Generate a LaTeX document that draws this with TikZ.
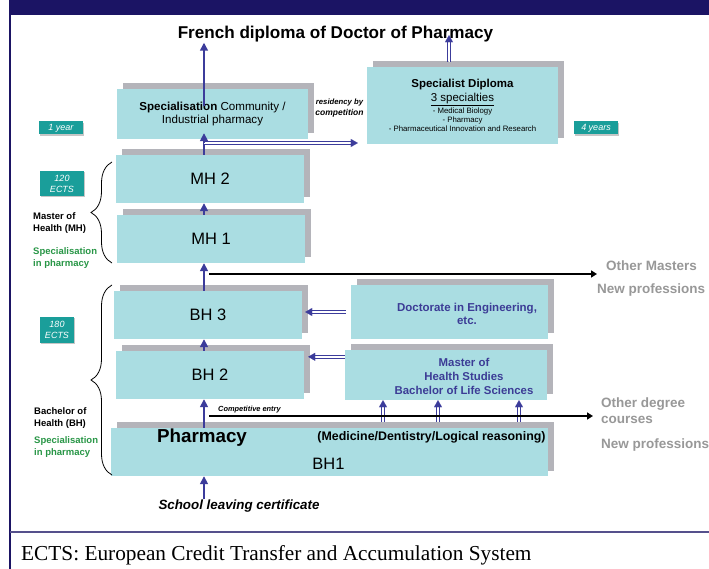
\documentclass[tikz,border=0pt]{standalone}
\usepackage{fontspec}
\setmainfont{Liberation Sans}
\newfontfamily\timesfont{Liberation Serif}
\usetikzlibrary{arrows.meta,shadows,calc,decorations.pathreplacing}
\definecolor{navy}{RGB}{27,20,100}
\definecolor{framegrey}{RGB}{85,80,140}
\definecolor{boxcyan}{RGB}{170,221,226}
\definecolor{shgrey}{RGB}{180,180,186}
\definecolor{arrblue}{RGB}{60,60,155}
\definecolor{tagteal}{RGB}{26,158,154}
\definecolor{hgreen}{RGB}{40,150,70}
\definecolor{lgrey}{RGB}{152,152,152}
\definecolor{textblue}{RGB}{60,60,150}
\newcommand\dblv[2]{%
  \draw[dblline, transform canvas={xshift=1.2pt}] #1 -- #2;
  \draw[dblline, transform canvas={xshift=-1.2pt}] #1 -- #2;
  \draw[dbltip] #1 -- #2;}
\newcommand\dblh[2]{%
  \draw[dblline, transform canvas={yshift=1.2pt}] #1 -- #2;
  \draw[dblline, transform canvas={yshift=-1.2pt}] #1 -- #2;
  \draw[dbltip] #1 -- #2;}
\begin{document}
\begin{tikzpicture}[x=1pt,y=-1pt,
  box/.style={fill=boxcyan, inner sep=0pt, align=center,
    general shadow={fill=shgrey, shadow xshift=6pt, shadow yshift=6pt}},
  tagbox/.style={fill=tagteal, text=white, inner sep=0pt, align=center,
    font=\fontsize{9}{11}\selectfont\itshape,
    general shadow={fill=gray!45, shadow xshift=1.2pt, shadow yshift=-1.2pt}},
  arr/.style={draw=arrblue, line width=1.6pt, -{Triangle[length=8pt,width=8pt]}},
  dblline/.style={draw=arrblue, line width=0.8pt, shorten >=6pt},
  dbltip/.style={draw=white, line width=0.05pt, -{Triangle[length=7pt,width=8pt,color=arrblue]}},
  blk/.style={draw=black, line width=2.6pt, -{Triangle[length=6pt,width=7pt]}},
  side/.style={font=\fontsize{9.5}{12}\selectfont\bfseries, align=left, anchor=base west, inner sep=0pt},
  gtext/.style={text=lgrey, font=\fontsize{13.5}{16}\selectfont\bfseries, align=left, anchor=base west, inner sep=0pt},
  bigtxt/.style={font=\fontsize{16.5}{20}\selectfont},
  brace/.style={decorate, decoration={brace, amplitude=21pt}, line width=0.8pt}
]
\useasboundingbox (0,0) rectangle (709,569);
\fill[white] (0,0) rectangle (709,569);
% frame
\fill[navy] (9,0) rectangle (709,15);
\draw[navy, line width=2pt] (10,0) -- (10,569);
\draw[framegrey, line width=2pt] (10,532) -- (709,532);

% title
\node[font=\fontsize{17.1}{20}\selectfont\bfseries, inner sep=0pt, anchor=base] (title) at (335.5,39) {French diploma of Doctor of Pharmacy};

% top boxes
\node[box, minimum width=191pt, minimum height=50pt, font=\fontsize{11.6}{13.5}\selectfont] (spec) at (212.5,114)
  {\textbf{Specialisation} Community /\\ Industrial pharmacy};
\node[box, minimum width=191pt, minimum height=77pt, font=\fontsize{11.5}{14}\selectfont] (specdip) at (462.5,105.5)
  {\textbf{Specialist Diploma}\\ \underline{3 specialties}\\[-2pt]
   {\fontsize{7.8}{9}\selectfont - Medical Biology}\\[-5pt]
   {\fontsize{7.8}{9}\selectfont - Pharmacy}\\[-5pt]
   {\fontsize{7.8}{9}\selectfont - Pharmaceutical Innovation and Research}};
\node[font=\bfseries\itshape, align=center, inner sep=0pt] (resid) at (339.5,108)
  {{\fontsize{7.7}{9}\selectfont residency by}\\[-1pt]{\fontsize{8.5}{10}\selectfont competition}};

% tags
\node[tagbox, minimum width=44pt, minimum height=13pt] (yr1) at (61,128) {1 year};
\node[tagbox, minimum width=44pt, minimum height=13pt] (yr4) at (596,128) {4 years};
\node[tagbox, minimum width=44pt, minimum height=25pt] (e120) at (62,183.5) {120\\ECTS};
\node[tagbox, minimum width=34pt, minimum height=26pt] (e180) at (57,330) {180\\ECTS};

% main column
\node[box, minimum width=188pt, minimum height=48pt, bigtxt] (mh2) at (210,179) {MH 2};
\node[box, minimum width=188pt, minimum height=48pt, bigtxt] (mh1) at (211,239) {MH 1};
\node[box, minimum width=188pt, minimum height=48pt, bigtxt] (bh3) at (208,315) {BH 3};
\node[box, minimum width=188pt, minimum height=48pt, bigtxt] (bh2) at (210,375) {BH 2};
\node[box, minimum width=437pt, minimum height=48pt, general shadow={fill=shgrey, shadow xshift=6pt, shadow yshift=5pt}] (bh1) at (329.5,452) {};
\node[font=\fontsize{18.8}{22}\selectfont\bfseries, inner sep=0pt] (pharm) at (202,438) {Pharmacy};
\node[font=\fontsize{12.4}{14}\selectfont\bfseries, inner sep=0pt] (med) at (431.5,437) {(Medicine/Dentistry/Logical reasoning)};
\node[bigtxt, inner sep=0pt] (bh1t) at (328.5,464) {BH1};

% right boxes
\node[box, minimum width=197pt, minimum height=54pt] (doct) at (449.5,312) {};
\node[text=textblue, font=\fontsize{11.5}{13}\selectfont\bfseries, align=center, inner sep=0pt] (doctxt) at (467,313.5)
  {Doctorate in Engineering,\\ etc.};
\node[box, minimum width=202pt, minimum height=50pt] (mast) at (446,375) {};
\node[text=textblue, font=\fontsize{11.4}{14}\selectfont\bfseries, align=center, inner sep=0pt] (masttxt) at (464,376)
  {Master of\\ Health Studies\\ Bachelor of Life Sciences};

% side labels (base = last line)
\node[side] (mhlab) at (33,232) {Master of\\Health (MH)};
\node[side, text=hgreen] (mhspec) at (33,266) {Specialisation\\in pharmacy};
\node[side] (bhlab) at (34,426.5) {Bachelor of\\Health (BH)};
\node[side, text=hgreen] (bhspec) at (34,455.5) {Specialisation\\in pharmacy};

% right grey labels
\node[gtext] (omast) at (606,270) {Other Masters};
\node[gtext] (newp1) at (597,294) {New professions};
\node[gtext] (odeg) at (601,423) {Other degree\\courses};
\node[gtext] (newp2) at (601,448) {New professions};

\node[font=\fontsize{7.4}{9}\selectfont\bfseries\itshape, inner sep=0pt, anchor=base west] (comp) at (218,411) {Competitive entry};
\node[font=\fontsize{13.35}{16}\selectfont\bfseries\itshape, inner sep=0pt, anchor=base] (school) at (239,509) {School leaving certificate};

% footer
\node[font=\timesfont\fontsize{21.3}{24}\selectfont, anchor=base west, inner sep=0pt] (foot) at (21,560)
  {ECTS: European Credit Transfer and Accumulation System};

% braces
\draw[brace] (112,263) -- (112,162);
\draw[brace] (112,475) -- (112,285);

% connectors
\coordinate (spine) at (204,0);
\coordinate (specTop) at (204,106);
\coordinate (sdTop) at (449,62);
\coordinate (sdEnd) at ($(sdTop |- title.south)+(0,-7.5)$);
\coordinate (dblStart) at (204,143);
\coordinate (dblEnd) at ($(specdip.west |- dblStart)+(-9,0)$);
\coordinate (dA) at ($(doct.west)+(-5,0)$);
\coordinate (dB) at ($(bh3.east |- doct.west)+(3,0)$);
\coordinate (mA) at ($(mast.north west)+(0,7)$);
\coordinate (mB) at ($(bh2.east |- mA)+(4,0)$);
\coordinate (b1top) at ($(bh1.north)+(0,-6)$);
\coordinate (c1) at (383,0);
\coordinate (c2) at (438,0);
\coordinate (c3) at (519,0);
\coordinate (k1s) at (209,274);
\coordinate (k1e) at (597,274);
\coordinate (k2s) at (209,416);
\coordinate (k2e) at (593,416);

\draw[arr] (school.north -| spine) -- (bh1.south -| spine);
\draw[arr] (bh1.north -| spine) -- (bh2.south -| spine);
\draw[arr] (bh2.north -| spine) -- (bh3.south -| spine);
\draw[arr] (bh3.north -| spine) -- (mh1.south -| spine);
\draw[arr] (mh1.north -| spine) -- (mh2.south -| spine);
\draw[arr, shorten >=-6pt] (mh2.north -| spine) -- (spec.south -| spine);
\draw[arr] (specTop) -- (title.south -| spine);

\dblh{(dblStart)}{(dblEnd)}
\dblv{(sdTop)}{(sdEnd)}
\dblh{(dA)}{(dB)}
\dblh{(mA)}{(mB)}
\dblv{(b1top -| c1)}{(mast.south -| c1)}
\dblv{(b1top -| c2)}{(mast.south -| c2)}
\dblv{(b1top -| c3)}{(mast.south -| c3)}

\draw[blk] (k1s) -- (k1e);
\draw[blk] (k2s) -- (k2e);
\end{tikzpicture}
\end{document}
